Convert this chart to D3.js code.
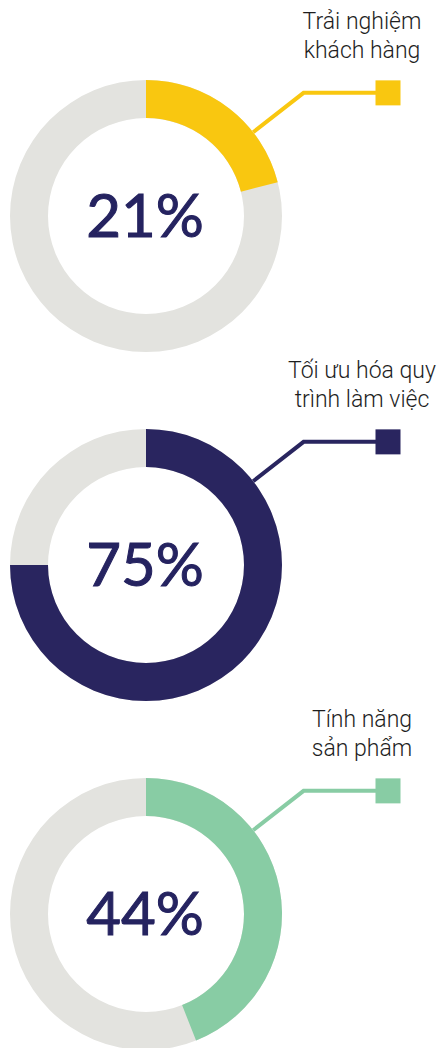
<!DOCTYPE html>
<html>
<head>
<meta charset="utf-8">
<script src="https://cdn.jsdelivr.net/npm/d3@7"></script>
<style>
  html, body { margin: 0; padding: 0; background: #ffffff; }
  svg { display: block; }
</style>
</head>
<body>
<svg id="chart" width="438" height="1048"></svg>
<script>
// Share of respondents per focus area
const categories = ["Trải nghiệm khách hàng", "Tối ưu hóa quy trình làm việc", "Tính năng sản phẩm"];
const labelLines = [["Trải nghiệm", "khách hàng"], ["Tối ưu hóa quy", "trình làm việc"], ["Tính năng", "sản phẩm"]];
const values = [21, 75, 44];
const colors = ["#F9C710", "#29255F", "#88CCA4"];

const W = 438, H = 1048;
const svg = d3.select("#chart");

const cx = 146;
const outerR = 136, innerR = 98;
const yCenter = d3.scalePoint().domain(categories).range([216, 914]);
const pct = d3.scaleLinear().domain([0, 100]).range([0, 2 * Math.PI]);

const arc = d3.arc().innerRadius(innerR).outerRadius(outerR);

const g = svg.selectAll("g.donut")
  .data(categories.map((c, i) => ({ c, v: values[i], color: colors[i], lines: labelLines[i] })))
  .join("g")
  .attr("class", "donut")
  .attr("transform", d => `translate(${cx},${yCenter(d.c)})`);

// track
g.append("path")
  .attr("d", arc({ startAngle: 0, endAngle: 2 * Math.PI }))
  .attr("fill", "#E3E3DF");

// value arc
g.append("path")
  .attr("d", d => arc({ startAngle: 0, endAngle: pct(d.v) }))
  .attr("fill", d => d.color);

// centre value
g.append("text")
  .attr("x", -1)
  .attr("y", 21)
  .attr("text-anchor", "middle")
  .attr("font-family", "Lato, 'Open Sans', sans-serif")
  .attr("font-size", 60)
  .attr("fill", "#252360")
  .attr("stroke", "#252360")
  .attr("stroke-width", 1)
  .text(d => d.v + "%");

// leader line: radial out of the ring, then horizontal to the marker
const leadAngle = 52 * Math.PI / 180;
const elbowR = 200;
const p0 = [outerR * Math.sin(leadAngle), -outerR * Math.cos(leadAngle)];
const p1 = [elbowR * Math.sin(leadAngle), -elbowR * Math.cos(leadAngle)];
const markerX = 388 - cx;
g.append("path")
  .attr("d", d3.line()([p0, p1, [markerX, p1[1]]]))
  .attr("fill", "none")
  .attr("stroke", d => d.color)
  .attr("stroke-width", 4);

g.append("rect")
  .attr("x", markerX - 12.5)
  .attr("y", p1[1] - 12.5)
  .attr("width", 25)
  .attr("height", 25)
  .attr("fill", d => d.color);

// category label
const lbl = g.append("text")
  .attr("text-anchor", "middle")
  .attr("font-family", "Roboto, 'Liberation Sans', Arial, sans-serif")
  .attr("font-weight", 300)
  .attr("font-size", 23)
  .attr("fill", "#1e1e1e");
lbl.selectAll("tspan")
  .data(d => d.lines)
  .join("tspan")
  .attr("x", 362 - cx)
  .attr("y", (d, i) => -187 + i * 29)
  .text(d => d);
</script>
</body>
</html>
